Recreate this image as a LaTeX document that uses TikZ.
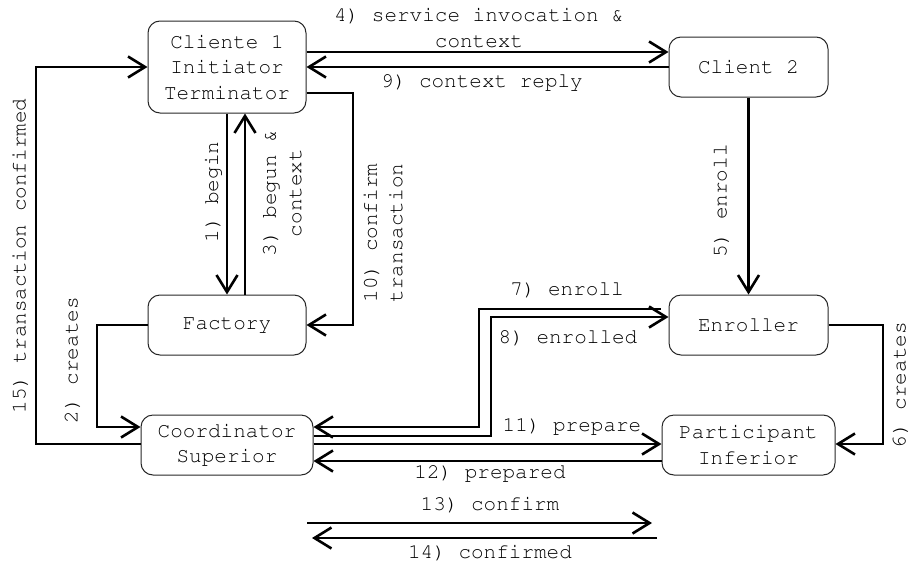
\documentclass[tikz,border=0pt]{standalone}
\usepackage[T1]{fontenc}
\usepackage{courier}
\usetikzlibrary{arrows.meta,calc}
\begin{document}
\begin{tikzpicture}[x=1pt,y=-1pt,
  box/.style={draw=black!85, line width=1pt, rounded corners=12pt, align=center, inner sep=0pt},
  arr/.style={line width=2.6pt, -{Straight Barb[length=17pt,width=21pt]}},
  lbl/.style={align=center, inner sep=0pt},
  every node/.style={font=\ttfamily\fontsize{21}{25.5}\selectfont}]
\useasboundingbox (0,0) rectangle (909,565);
% boxes
\node[box, minimum width=158pt, minimum height=92pt] (c1) at (227,67) {Cliente 1\\Initiator\\Terminator};
\node[box, minimum width=159pt, minimum height=60pt] (c2) at (748.5,67) {Client 2};
\node[box, minimum width=158pt, minimum height=60pt] (fac) at (227,325) {Factory};
\node[box, minimum width=172pt, minimum height=60pt] (crd) at (227,445) {Coordinator\\Superior};
\node[box, minimum width=159pt, minimum height=60pt] (enr) at (748.5,325) {Enroller};
\node[box, minimum width=173pt, minimum height=60pt] (par) at (748.5,445) {Participant\\Inferior};
% coordinates
\coordinate (k10) at (353,93);
\coordinate (k15) at (36,67);
\coordinate (k2) at (97,325);
\coordinate (k6) at (883,325);
\coordinate (k8) at (479,309);
\coordinate (k7) at (491,436);
\coordinate (a13) at (307,523);
\coordinate (b13) at (652,523);
\coordinate (a14) at (657,538);
\coordinate (b14) at (312,538);
% connectors
\draw[arr] ($(c1.east)+(0,-15)$) -- ($(c2.west)+(0,-15)$);
\draw[arr] (c2.west) -- (c1.east);
\draw[arr] ($(c1.east)+(0,26)$) -- (k10) |- (fac.east);
\draw[arr] (c1.south) -- (fac.north);
\draw[arr] ($(fac.north)+(18,0)$) -- ($(c1.south)+(18,0)$);
\draw[arr] ($(crd.west)+(0,-1)$) -| (k15) -- (c1.west);
\draw[arr] (fac.west) -- (k2) |- ($(crd.west)+(0,-18)$);
\draw[arr] (c2.south) -- (enr.north);
\draw[arr] (enr.east) -- (k6) |- ($(par.east)+(0,-1)$);
\draw[arr] ($(enr.west)+(-8,-16)$) -- (k8) |- ($(crd.east)+(0,-18)$);
\draw[arr] ($(crd.east)+(0,-9)$) -- (k7) |- ($(enr.west)+(0,-8)$);
\draw[arr] ($(crd.east)+(0,-1)$) -- ($(par.west)+(0,-1)$);
\draw[arr] ($(par.west)+(0,16)$) -- ($(crd.east)+(0,16)$);
\draw[arr] (a13) -- (b13);
\draw[arr] (a14) -- (b14);
% labels
\node[lbl] (l4) at (479,28) {4) service invocation \&\\context};
\node[lbl] (l9) at (482,82) {9) context reply};
\node[lbl, rotate=90] (l1) at (213,192) {1) begin};
\node[lbl, rotate=90] (l3) at (282,193) {3) begun \&\\context};
\node[lbl, rotate=90] (l10) at (383,233) {10) confirm\\transaction};
\node[lbl, rotate=90] (l15) at (20,256) {15) transaction confirmed};
\node[lbl, rotate=90] (l2) at (72,360) {2) creates};
\node[lbl, rotate=90] (l5) at (721,201) {5) enroll};
\node[lbl, rotate=90] (l6) at (900,385) {6) creates};
\node[lbl] (l7) at (567,290) {7) enroll};
\node[lbl] (l8) at (568,338) {8) enrolled};
\node[lbl] (l11) at (572,426) {11) prepare};
\node[lbl] (l12) at (490,473) {12) prepared};
\node[lbl] (l13) at (490,505) {13) confirm};
\node[lbl] (l14) at (490,553) {14) confirmed};
\end{tikzpicture}
\end{document}
